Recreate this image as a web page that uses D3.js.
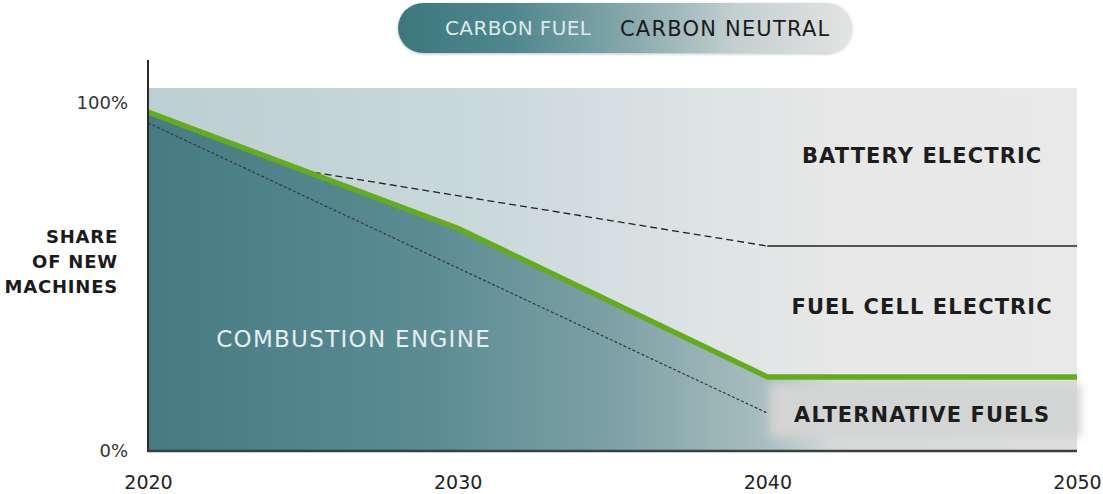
<!DOCTYPE html>
<html>
<head>
<meta charset="utf-8">
<script src="https://cdn.jsdelivr.net/npm/d3@7"></script>
<style>
  body { margin: 0; background: #fff; }
  svg { display: block; font-family: "DejaVu Sans", sans-serif; }
</style>
</head>
<body>
<svg id="chart" width="1103" height="494"></svg>
<script>
// chart data (share of new machines, %)
const xTicks = [2020, 2030, 2040, 2050];
const yTicks = [0, 100];
const carbonNeutralLine = [
  { year: 2020, value: 97.4 },
  { year: 2030, value: 64 },
  { year: 2040, value: 21.3 },
  { year: 2050, value: 21.3 }
];
const combustionTop = [
  { year: 2020, value: 94.3 },
  { year: 2040, value: 10.9 }
];
const fuelCellTopDashed = [
  { year: 2025, value: 80.6 },
  { year: 2040, value: 58.9 }
];
const fuelCellTopSolid = [
  { year: 2040, value: 58.9 },
  { year: 2050, value: 58.9 }
];
const yLabelLines = ['SHARE', 'OF NEW', 'MACHINES'];
const legendLabels = ['CARBON FUEL', 'CARBON NEUTRAL'];
const regionLabels = [
  { text: 'BATTERY ELECTRIC', year: 2045, value: 85, bold: true },
  { text: 'FUEL CELL ELECTRIC', year: 2045, value: 41.6, bold: true },
  { text: 'ALTERNATIVE FUELS', year: 2045, value: 10.5, bold: true },
  { text: 'COMBUSTION ENGINE', year: 2022.2, value: 32.2, bold: false }
];
const bandTop = 104.3;

const svg = d3.select('#chart');
const x = d3.scaleLinear().domain([2020, 2050]).range([148, 1077]);
const y = d3.scaleLinear().domain([0, 100]).range([451, 103]);

const defs = svg.append('defs');

function gradient(id, stops, x1, x2) {
  const g = defs.append('linearGradient')
    .attr('id', id)
    .attr('gradientUnits', 'userSpaceOnUse')
    .attr('x1', x1).attr('x2', x2).attr('y1', 0).attr('y2', 0);
  stops.forEach(s => g.append('stop').attr('offset', s[0]).attr('stop-color', s[1]));
}

gradient('bgGrad', [[0, '#bccfd3'], [0.35, '#c9d8db'], [0.6, '#dee3e4'], [0.75, '#e8e8e8'], [1, '#e9e9e9']], x(2020), x(2050));
gradient('fillGrad', [[0, '#467b82'], [0.3, '#5a8c92'], [0.5, '#7da1a5'], [0.666, '#a9bec1'], [0.74, '#d7dada'], [1, '#dedede']], x(2020), x(2050));
gradient('pillGrad', [[0, '#3d777e'], [0.25, '#4f878d'], [0.5, '#83a7aa'], [0.75, '#c5d0d1'], [1, '#e3e3e3']], 398, 852);

defs.append('filter').attr('id', 'blur')
  .attr('x', '-20%').attr('y', '-50%').attr('width', '140%').attr('height', '200%')
  .append('feGaussianBlur').attr('stdDeviation', 5);

const shadow = defs.append('filter').attr('id', 'shadow')
  .attr('x', '-10%').attr('y', '-30%').attr('width', '120%').attr('height', '160%');
shadow.append('feDropShadow').attr('dx', 0).attr('dy', 1).attr('stdDeviation', 1.5)
  .attr('flood-color', '#000').attr('flood-opacity', 0.25);

// legend pill
const legend = svg.append('g');
legend.append('rect')
  .attr('x', 398).attr('y', 3).attr('width', 454).attr('height', 50)
  .attr('rx', 25).attr('fill', 'url(#pillGrad)').attr('filter', 'url(#shadow)');
legend.append('text').attr('x', 445).attr('y', 28).attr('dy', '0.36em')
  .attr('font-size', 20).attr('letter-spacing', 0.4).attr('fill', '#dde9eb')
  .text(legendLabels[0]);
legend.append('text').attr('x', 620).attr('y', 28).attr('dy', '0.36em')
  .attr('font-size', 21).attr('letter-spacing', 1.2).attr('fill', '#1b1b1b')
  .text(legendLabels[1]);

// background band
svg.append('rect')
  .attr('x', x(2020)).attr('y', y(bandTop))
  .attr('width', x(2050) - x(2020)).attr('height', y(0) - y(bandTop))
  .attr('fill', 'url(#bgGrad)');

// area below carbon neutral line
const area = d3.area().x(d => x(d.year)).y0(y(0)).y1(d => y(d.value));
svg.append('path').datum(carbonNeutralLine)
  .attr('d', area).attr('fill', 'url(#fillGrad)');

// alternative fuels label box
svg.append('rect')
  .attr('x', x(2040) + 2).attr('y', y(19.3)).attr('width', x(2050) - x(2040) + 2).attr('height', y(4) - y(19.3))
  .attr('fill', '#d3d4d4').attr('filter', 'url(#blur)');

const line = d3.line().x(d => x(d.year)).y(d => y(d.value));

svg.append('path').datum(combustionTop)
  .attr('d', line).attr('fill', 'none')
  .attr('stroke', '#2f3a3c').attr('stroke-width', 1.2).attr('stroke-dasharray', '3,2');

svg.append('path').datum(fuelCellTopDashed)
  .attr('d', line).attr('fill', 'none')
  .attr('stroke', '#222').attr('stroke-width', 1.3).attr('stroke-dasharray', '7,4');

svg.append('path').datum(fuelCellTopSolid)
  .attr('d', line).attr('fill', 'none')
  .attr('stroke', '#222').attr('stroke-width', 1.4);

svg.append('path').datum(carbonNeutralLine)
  .attr('d', line).attr('fill', 'none')
  .attr('stroke', '#64ac1c').attr('stroke-width', 5.5);

// region labels
svg.selectAll('text.region').data(regionLabels).join('text')
  .attr('class', 'region')
  .attr('x', d => x(d.year)).attr('y', d => y(d.value)).attr('dy', '0.36em')
  .attr('text-anchor', d => d.bold ? 'middle' : 'start')
  .attr('font-size', d => d.bold ? 21 : 23)
  .attr('letter-spacing', d => d.bold ? 1.1 : 1.3)
  .attr('font-weight', d => d.bold ? 'bold' : 'normal')
  .attr('fill', d => d.bold ? '#1d1d1d' : '#e4edef')
  .text(d => d.text);

// axes
svg.append('line')
  .attr('x1', x(2020)).attr('x2', x(2020)).attr('y1', 60).attr('y2', y(0) + 1)
  .attr('stroke', '#2b2b2b').attr('stroke-width', 2);
svg.append('line')
  .attr('x1', x(2020)).attr('x2', x(2050)).attr('y1', y(0)).attr('y2', y(0))
  .attr('stroke', '#3a3f40').attr('stroke-width', 2.5);

const yAxis = svg.append('g')
  .attr('transform', `translate(${x(2020)},0)`)
  .call(d3.axisLeft(y).tickValues(yTicks).tickSize(0).tickPadding(20).tickFormat(d => d + '%'));
yAxis.select('.domain').remove();
yAxis.selectAll('text').attr('font-size', 18).attr('fill', '#333').attr('font-family', '"DejaVu Sans", sans-serif');

const xAxis = svg.append('g')
  .attr('transform', `translate(0,${y(0)})`)
  .call(d3.axisBottom(x).tickValues(xTicks).tickSize(0).tickPadding(25).tickFormat(d3.format('d')));
xAxis.select('.domain').remove();
xAxis.selectAll('text').attr('font-size', 19).attr('fill', '#222').attr('font-family', '"DejaVu Sans", sans-serif');

// y label
svg.append('text')
  .attr('text-anchor', 'end').attr('font-size', 18).attr('font-weight', 'bold')
  .attr('letter-spacing', 0.8).attr('fill', '#1b1b1b')
  .selectAll('tspan').data(yLabelLines).join('tspan')
  .attr('x', 118).attr('y', (d, i) => 237 + i * 25).attr('dy', '0.36em')
  .text(d => d);
</script>
</body>
</html>
